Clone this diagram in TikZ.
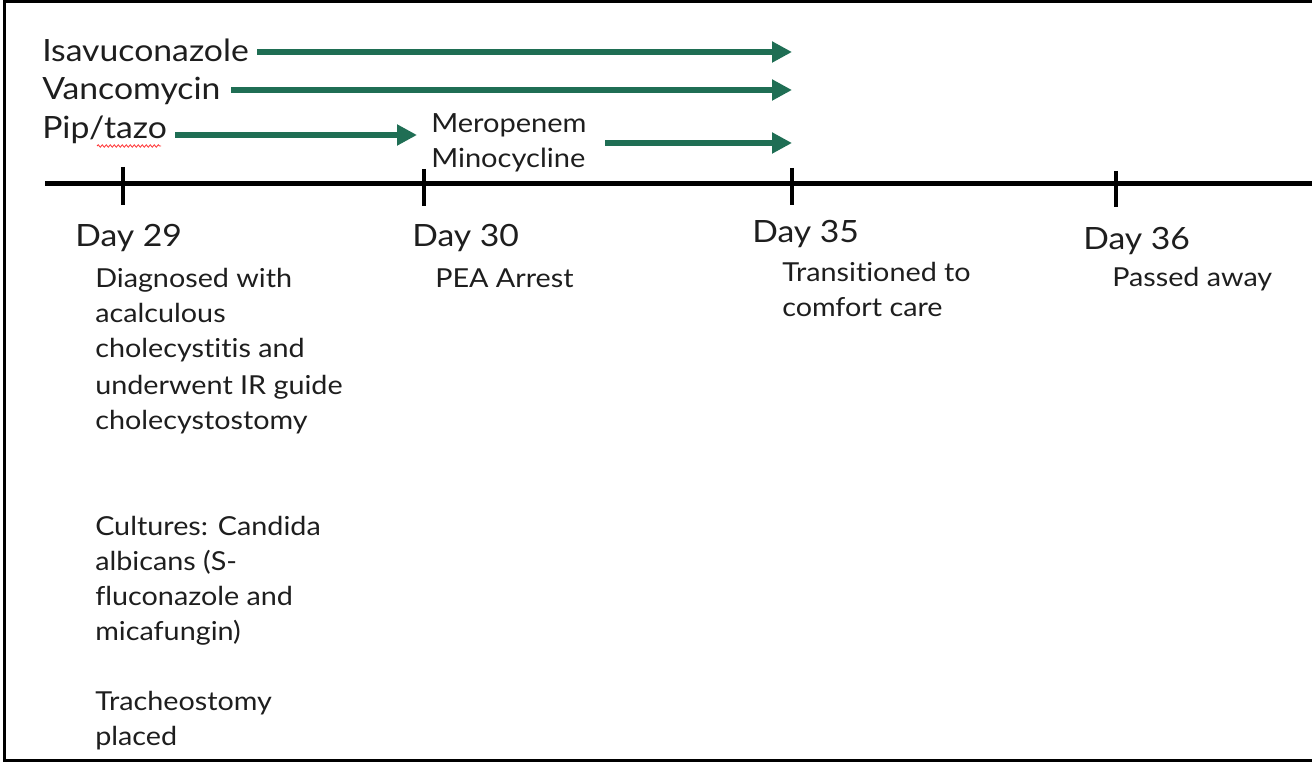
\documentclass[tikz,border=0pt]{standalone}
\usepackage{fontspec}
\setmainfont{Lato}[FakeStretch=1.1,Ligatures={NoCommon,NoRare,NoContextual}]
\usetikzlibrary{arrows.meta,decorations.pathmorphing}
\definecolor{rxgreen}{RGB}{31,110,84}
\definecolor{ink}{RGB}{30,30,30}
\tikzset{
  lbl/.style={anchor=base west,inner sep=0pt,text=ink,font=\fontsize{23}{28}\selectfont},
  sublbl/.style={anchor=base west,inner sep=0pt,text=ink,font=\fontsize{19.8}{26}\selectfont},
  daylbl/.style={anchor=base west,inner sep=0pt,text=ink,font=\fontsize{23}{28}\selectfont},
  evt/.style={anchor=base west,inner sep=0pt,text=ink,font=\fontsize{19.6}{26}\selectfont},
  rx/.style={draw=rxgreen,line width=4.5pt,-{Triangle[length=15pt,width=15pt]}},
  axis/.style={draw=black,line width=3.75pt},
  tickmark/.style={draw=black,line width=3pt},
  frame/.style={draw=black,line width=2.25pt}
}
\begin{document}
\begin{tikzpicture}[x=0.75pt,y=-0.75pt]
\useasboundingbox (0,0) rectangle (1312,762);
\draw[frame] (1312,1.5) -- (4.5,1.5) -- (4.5,760.5) -- (1312,760.5);
% timeline
\coordinate (tl0) at (45,184);
\coordinate (tl1) at (1312,184);
\draw[axis] (tl0) -- (tl1);
\coordinate (t29a) at (123,167); \coordinate (t29b) at (123,205);
\coordinate (t30a) at (424,169); \coordinate (t30b) at (424,206);
\coordinate (t35a) at (792,168); \coordinate (t35b) at (792,205);
\coordinate (t36a) at (1116,171); \coordinate (t36b) at (1116,207);
\draw[tickmark] (t29a) -- (t29b);
\draw[tickmark] (t30a) -- (t30b);
\draw[tickmark] (t35a) -- (t35b);
\draw[tickmark] (t36a) -- (t36b);
% drug labels
\node[lbl] (isa) at (42,62) {Isavuconazole};
\node[lbl] (van) at (42,100) {Vancomycin};
\node[lbl] (pip) at (42,139) {Pip/tazo};
\node[sublbl] (mer) at (431,133) {Meropenem};
\node[sublbl] (min) at (431,168) {Minocycline};
% arrows
\coordinate (a1s) at (257,52); \coordinate (a1e) at (792,52);
\coordinate (a2s) at (231,90); \coordinate (a2e) at (792,90);
\coordinate (a3s) at (175,135); \coordinate (a3e) at (417,135);
\coordinate (a4s) at (605,143); \coordinate (a4e) at (792,143);
\draw[rx] (a1s) -- (a1e);
\draw[rx] (a2s) -- (a2e);
\draw[rx] (a3s) -- (a3e);
\draw[rx] (a4s) -- (a4e);
% spell-check underline
\coordinate (sq0) at (97,146); \coordinate (sq1) at (161,146);
\draw[red!80,line width=0.6pt,decorate,decoration={snake,amplitude=0.9pt,segment length=3pt}] (sq0) -- (sq1);
% day labels
\node[daylbl] (d29) at (75,247) {Day 29};
\node[daylbl] (d30) at (412,247) {Day 30};
\node[daylbl] (d35) at (752,243) {Day 35};
\node[daylbl] (d36) at (1083,250) {Day 36};
% events
\node[evt] (e29a) at (95,288) {Diagnosed with};
\node[evt] (e29b) at (95,323) {acalculous};
\node[evt] (e29c) at (95,358) {cholecystitis and};
\node[evt] (e29d) at (95,394) {underwent IR guide};
\node[evt] (e29e) at (95,429) {cholecystostomy};
\node[evt] (e29f) at (95,535) {Cultures: Candida};
\node[evt] (e29g) at (95,570) {albicans (S-};
\node[evt] (e29h) at (95,605) {fluconazole and};
\node[evt] (e29i) at (95,640) {micafungin)};
\node[evt] (e29j) at (95,710) {Tracheostomy};
\node[evt] (e29k) at (95,745) {placed};
\node[evt] (e30) at (435,288) {PEA Arrest};
\node[evt] (e35a) at (782,282) {Transitioned to};
\node[evt] (e35b) at (782,317) {comfort care};
\node[evt] (e36) at (1112,287) {Passed away};
\end{tikzpicture}
\end{document}
